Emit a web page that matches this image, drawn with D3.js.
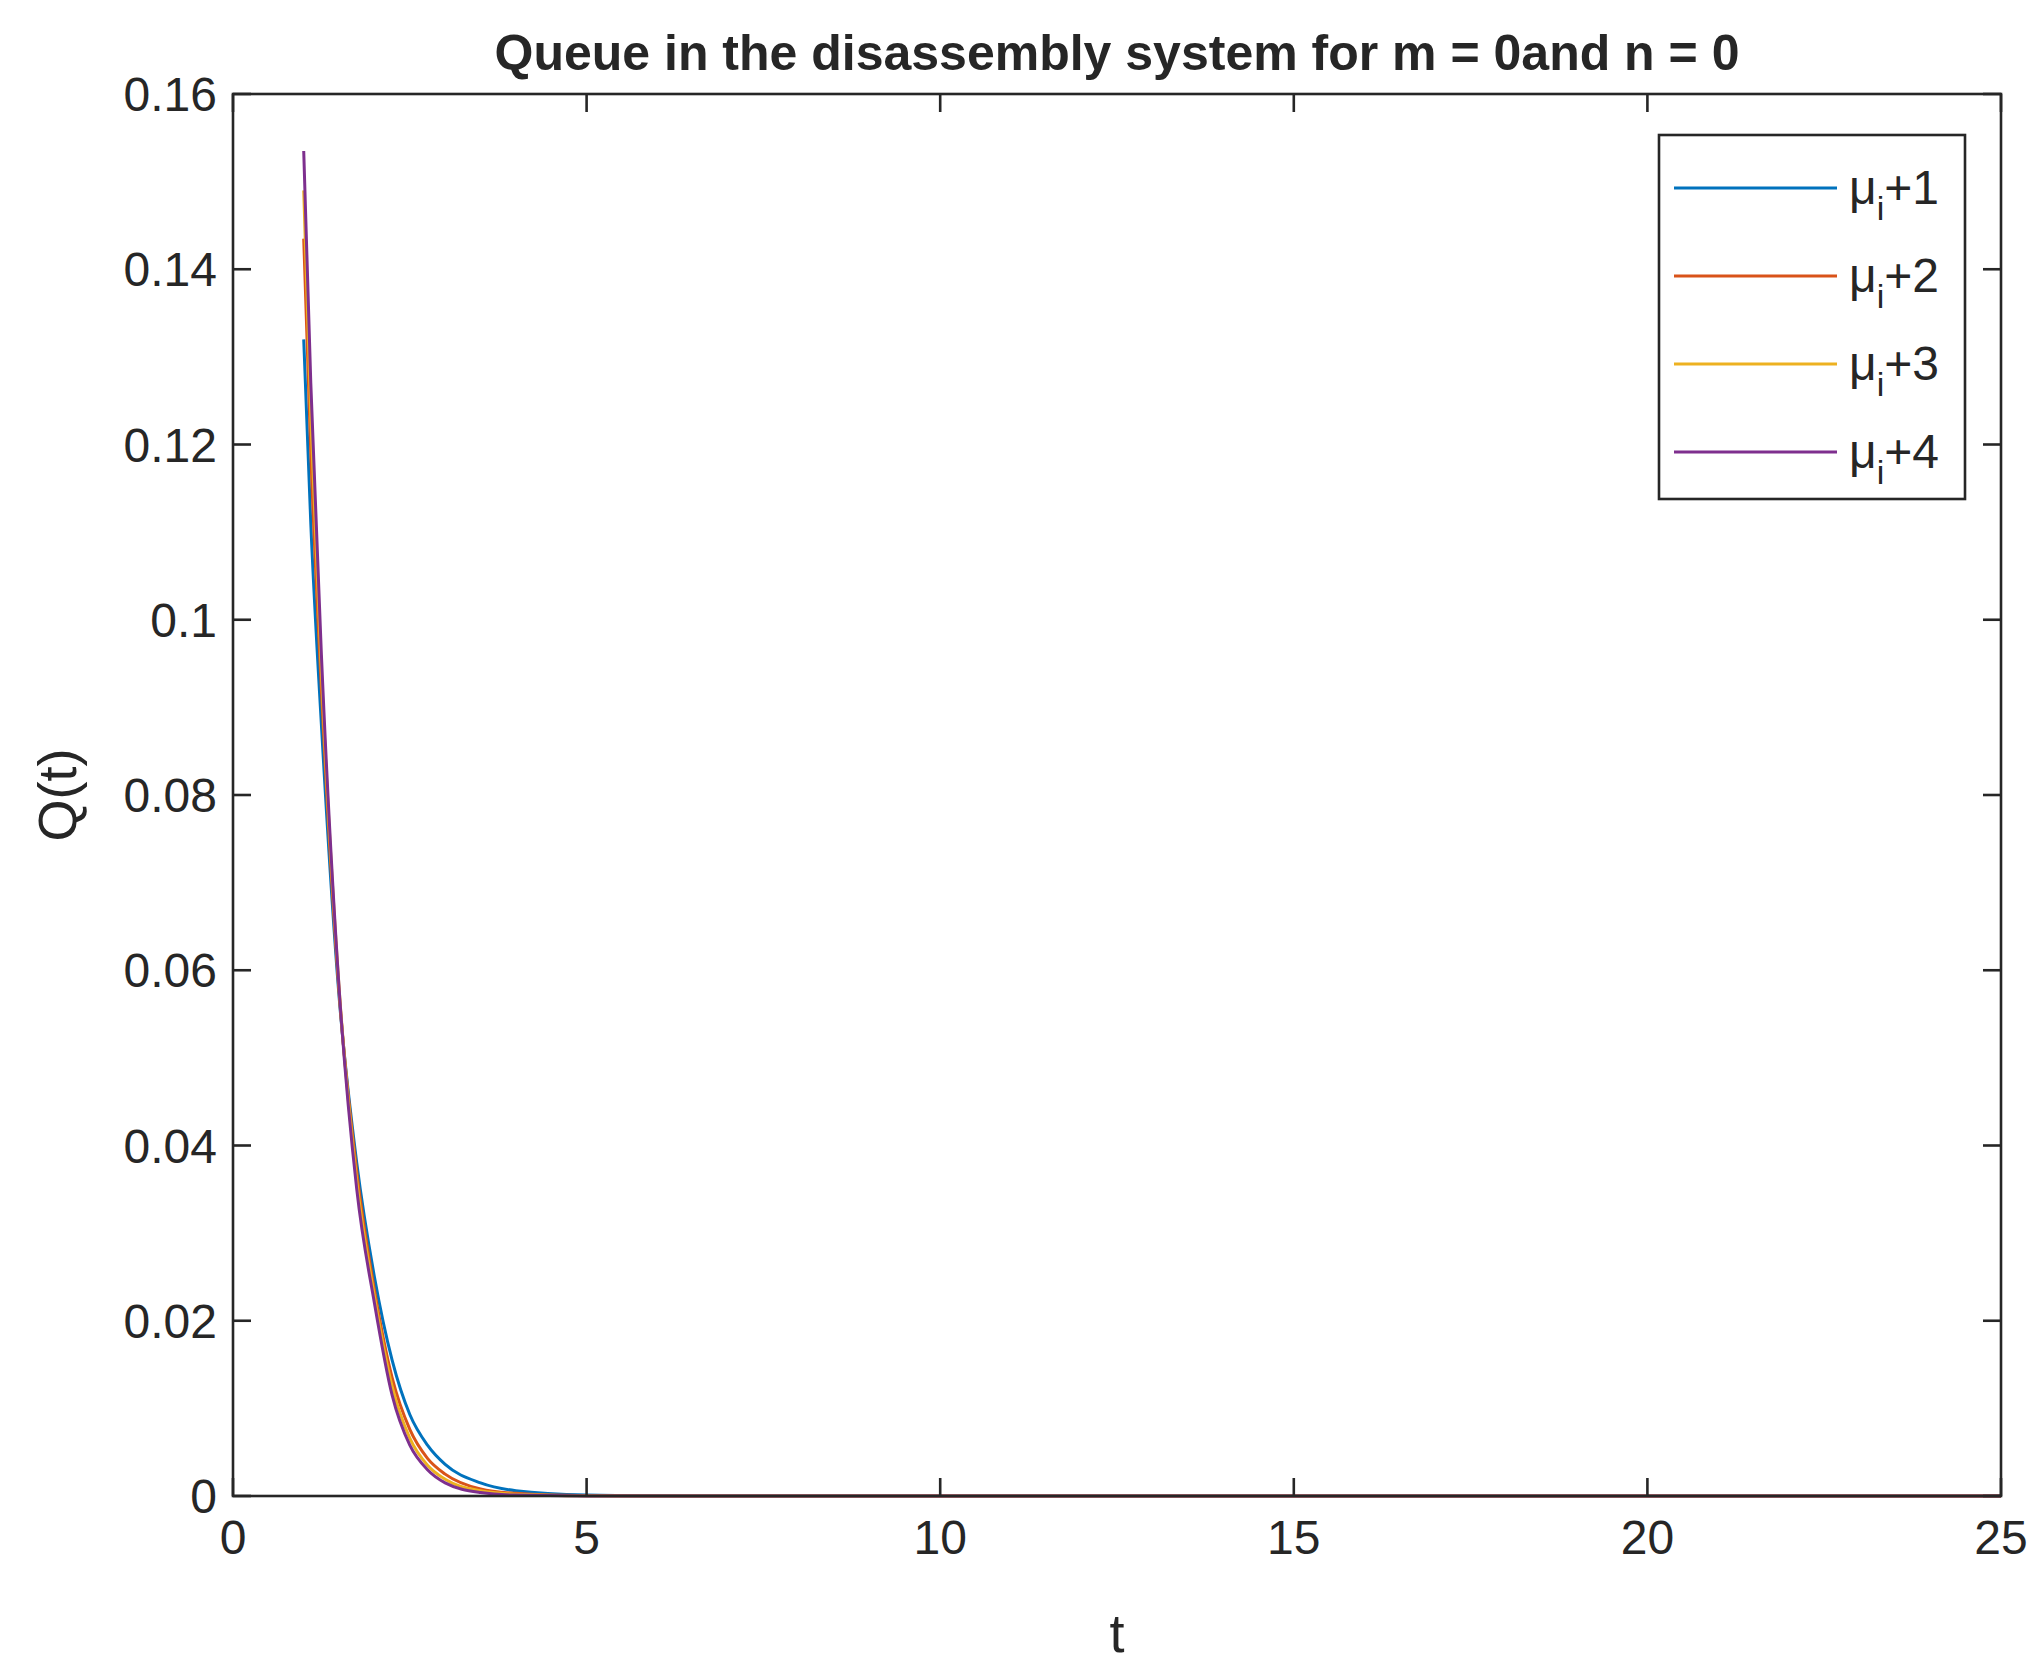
<!DOCTYPE html>
<html><head><meta charset="utf-8">
<script src="https://cdn.jsdelivr.net/npm/d3@7"></script>
<style>body{margin:0;background:#fff}text{font-family:Arial,"Liberation Sans",sans-serif;fill:#262626}</style>
</head><body><svg id="c" width="2044" height="1666"></svg>
<script>
const tVals = [1, 1.1, 1.25, 1.5, 1.75, 2, 2.25, 2.5, 2.75, 3, 3.5, 4, 5, 6, 7, 25];
const mu1 = [0.132, 0.111, 0.088, 0.057, 0.038, 0.025, 0.0155, 0.0093, 0.0058, 0.0036, 0.0015, 0.0006, 0.0001, 0.00002, 0, 0];
const mu2 = [0.1435, 0.119, 0.092, 0.0575, 0.037, 0.0235, 0.0135, 0.0076, 0.0043, 0.0025, 0.0008, 0.0003, 0.00003, 0, 0, 0];
const mu3 = [0.149, 0.123, 0.094, 0.058, 0.036, 0.0228, 0.0125, 0.0066, 0.0035, 0.0019, 0.0006, 0.0002, 0.00002, 0, 0, 0];
const mu4 = [0.1535, 0.127, 0.096, 0.058, 0.035, 0.022, 0.0115, 0.0058, 0.003, 0.0015, 0.0004, 0.0001, 0.00001, 0, 0, 0];
const series = [mu1, mu2, mu3, mu4];
const names = ["+1", "+2", "+3", "+4"];
const colors = ["#0072BD", "#D95319", "#EDB120", "#7E2F8E"];

const svg = d3.select("#c");
const L = 233, R = 2001, T = 94, B = 1496;
const x = d3.scaleLinear().domain([0, 25]).range([L, R]);
const y = d3.scaleLinear().domain([0, 0.16]).range([B, T]);
const fs = 48;

const line = d3.line().curve(d3.curveMonotoneX).x((d, i) => x(tVals[i])).y(d => y(d));
series.forEach((s, k) => {
  svg.append("path").attr("d", line(s)).attr("fill", "none")
    .attr("stroke", colors[k]).attr("stroke-width", 3);
});

// axes box with ticks on all sides
const xt = d3.range(0, 26, 5), yt = d3.range(0, 0.161, 0.02);
const g = svg.append("g").attr("stroke", "#262626").attr("stroke-width", 2.6);
g.append("rect").attr("x", L).attr("y", T).attr("width", R - L).attr("height", B - T).attr("fill", "none");
xt.forEach(v => {
  g.append("line").attr("x1", x(v)).attr("x2", x(v)).attr("y1", B).attr("y2", B - 18);
  g.append("line").attr("x1", x(v)).attr("x2", x(v)).attr("y1", T).attr("y2", T + 18);
});
yt.forEach(v => {
  g.append("line").attr("y1", y(v)).attr("y2", y(v)).attr("x1", L).attr("x2", L + 18);
  g.append("line").attr("y1", y(v)).attr("y2", y(v)).attr("x1", R).attr("x2", R - 18);
});
xt.forEach(v => svg.append("text").attr("x", x(v)).attr("y", B + 58).attr("text-anchor", "middle")
  .attr("font-size", fs).text(v));
yt.forEach(v => svg.append("text").attr("x", L - 16).attr("y", y(v) + 17).attr("text-anchor", "end")
  .attr("font-size", fs).text(d3.format("~g")(+v.toFixed(2))));

svg.append("text").attr("x", (L + R) / 2).attr("y", 1652).attr("text-anchor", "middle").attr("font-size", 54).text("t");
svg.append("text").attr("transform", `translate(76,${(T + B) / 2}) rotate(-90)`).attr("text-anchor", "middle")
  .attr("font-size", 54).text("Q(t)");
svg.append("text").attr("x", (L + R) / 2).attr("y", 70).attr("text-anchor", "middle").attr("font-size", 50)
  .attr("font-weight", "bold").text("Queue in the disassembly system for m = 0and n = 0");

// legend
const lx = 1659, ly = 135, lw = 306, lh = 364;
svg.append("rect").attr("x", lx).attr("y", ly).attr("width", lw).attr("height", lh)
  .attr("fill", "#fff").attr("stroke", "#262626").attr("stroke-width", 2.6);
names.forEach((n, k) => {
  const cy = ly + 53 + k * 88;
  svg.append("line").attr("x1", lx + 15).attr("x2", lx + 178).attr("y1", cy).attr("y2", cy)
    .attr("stroke", colors[k]).attr("stroke-width", 3);
  const t = svg.append("text").attr("x", lx + 190).attr("y", cy + 16).attr("font-size", fs);
  t.append("tspan").text("μ");
  t.append("tspan").attr("dy", 16).attr("font-size", 34).text("i");
  t.append("tspan").attr("dy", -16).text(n);
});
</script></body></html>
